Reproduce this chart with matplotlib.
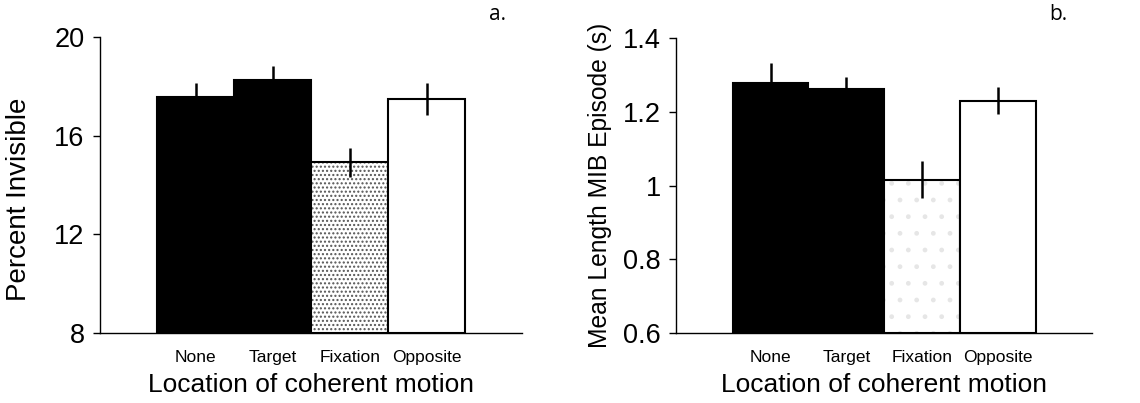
import matplotlib
matplotlib.use("Agg")
import matplotlib.pyplot as plt
import matplotlib.colors as mcolors

plt.rcParams['font.family'] = ['Liberation Sans', 'DejaVu Sans']
plt.rcParams['hatch.linewidth'] = 1.0

categories = ["None", "Target", "Fixation", "Opposite"]
pct_invisible = [17.58, 18.26, 14.92, 17.49]
pct_err = [0.55, 0.57, 0.60, 0.65]
mean_len = [1.278, 1.262, 1.016, 1.230]
len_err = [0.055, 0.031, 0.050, 0.036]
a_ticks = [8, 12, 16, 20]
a_ticklabels = ["8", "12", "16", "20"]
b_ticks = [0.6, 0.8, 1.0, 1.2, 1.4]
b_ticklabels = ["0.6", "0.8", "1", "1.2", "1.4"]

fig = plt.figure(figsize=(11.4, 4.03), dpi=100)
ax1 = fig.add_axes([100/1140, 70/403, 422/1140, 296/403])
ax2 = fig.add_axes([676/1140, 70/403, 416/1140, 295/403])

def draw(ax, vals, errs, ylim, ticks, ticklabels, ylabel, ylsize,
         fix_hatch, fix_color):
    x = list(range(len(categories)))
    faces = ["black", "black", "white", "white"]
    bars = ax.bar(x, [v - ylim[0] for v in vals], bottom=ylim[0], width=1.0,
                  color=faces, edgecolor="black", linewidth=1.5, zorder=2)
    bars[2].set_hatch(fix_hatch)
    bars[2]._hatch_color = mcolors.to_rgba(fix_color)
    ax.errorbar(x, vals, yerr=errs, fmt="none", ecolor="black", elinewidth=1.8,
                capsize=0, zorder=3)
    ax.set_xlim(-1.245, 4.235)
    ax.set_ylim(*ylim)
    ax.set_yticks(ticks)
    ax.set_yticklabels(ticklabels, fontsize=19.5)
    ax.set_xticks(x)
    ax.set_xticklabels(categories, fontsize=12.5)
    ax.tick_params(axis="x", length=0, pad=12)
    ax.tick_params(axis="y", length=5, width=1, pad=6, direction="out")
    for s in ("top", "right"):
        ax.spines[s].set_visible(False)
    for s in ("left", "bottom"):
        ax.spines[s].set_linewidth(1.0)
    ax.set_xlabel("Location of coherent motion", fontsize=19, labelpad=6)
    ax.set_ylabel(ylabel, fontsize=ylsize, labelpad=8)
    return ax

draw(ax1, pct_invisible, pct_err, (8, 20), a_ticks, a_ticklabels,
     "Percent Invisible", 20, "....", "#555555")
draw(ax2, mean_len, len_err, (0.6, 1.4), b_ticks, b_ticklabels,
     "Mean Length MIB Episode (s)", 17.7, ".", "#e6e6e6")
ax1.yaxis.set_label_coords(-0.161, 0.45)

fig.text(497/1140, 1 - 15/403, "a.", fontsize=15,
         family=["Open Sans", "DejaVu Sans"], ha="center", va="center")
fig.text(1058/1140, 1 - 15/403, "b.", fontsize=15,
         family=["Open Sans", "DejaVu Sans"], ha="center", va="center")

fig.savefig("out.png", dpi=100)
